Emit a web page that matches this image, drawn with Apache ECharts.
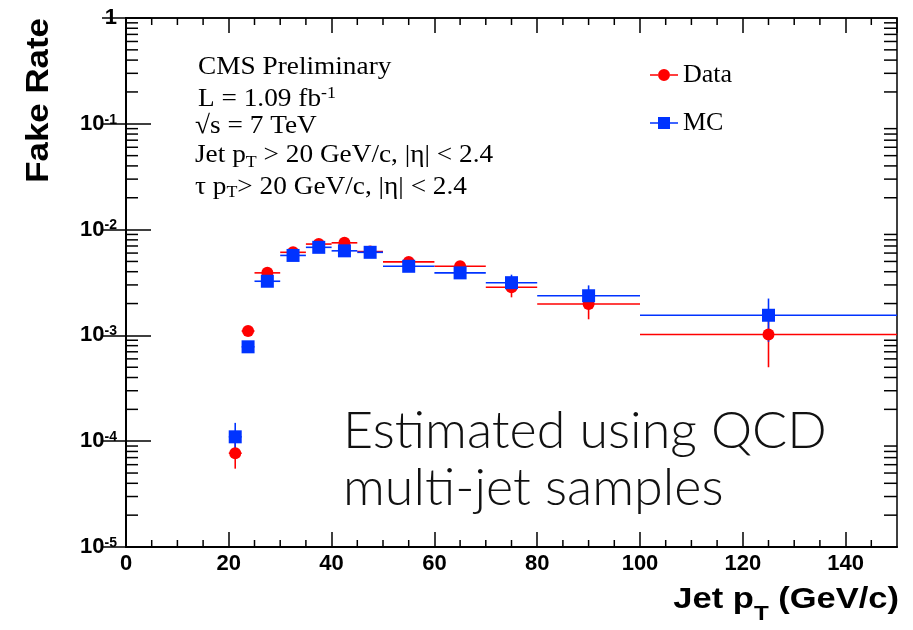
<!DOCTYPE html>
<html><head><meta charset="utf-8">
<script src="https://cdn.jsdelivr.net/npm/echarts@6/dist/echarts.min.js"></script>
<style>html,body{margin:0;padding:0;background:#fff}#c{width:913px;height:630px}</style>
</head><body><div id="c"></div>
<script>
// ---- data ----
const binLow    = [20, 22.5, 25, 30, 35, 40, 45, 50, 60, 70, 80, 100];
const binHigh   = [22.5, 25, 30, 35, 40, 45, 50, 60, 70, 80, 100, 150];
const binCenter = [21.25, 23.75, 27.5, 32.5, 37.5, 42.5, 47.5, 55, 65, 75, 90, 125];
const dataRate  = [7.7e-5, 1.1e-3, 3.9e-3, 6.1e-3, 7.3e-3, 7.5e-3, 6.2e-3, 4.95e-3, 4.5e-3, 2.85e-3, 1.98e-3, 1.02e-3];
const dataErr   = [2.2e-5, 6e-5, 2e-4, 2.5e-4, 3e-4, 3e-4, 3e-4, 3e-4, 3.5e-4, 5.6e-4, 5.6e-4, 5.2e-4];
const mcRate    = [1.1e-4, 7.8e-4, 3.25e-3, 5.7e-3, 6.8e-3, 6.3e-3, 6.1e-3, 4.5e-3, 3.9e-3, 3.15e-3, 2.37e-3, 1.55e-3];
const mcErr     = [3.9e-5, 4e-5, 1.5e-4, 2e-4, 2.5e-4, 2.5e-4, 3e-4, 2.5e-4, 3e-4, 6e-4, 6e-4, 6.8e-4];
const xMinorTicks = [5,10,15,25,30,35,45,50,55,65,70,75,85,90,95,105,110,115,125,130,135,145];
const yMinorMantissa = [2,3,4,5,6,7,8,9];
const yDecades = [-5,-4,-3,-2,-1];

const RED = '#ff0000', BLUE = '#0033ff';
const SANS = 'Liberation Sans', SERIF = 'Liberation Serif';

const yMinorTicks = [];
yDecades.forEach(e => yMinorMantissa.forEach(m => yMinorTicks.push(m * Math.pow(10, e))));

function errRows(rate, err) {
  return binCenter.map((x, i) => [x, rate[i], binLow[i], binHigh[i], rate[i] - err[i], rate[i] + err[i]]);
}
function errRender(color) {
  return function (params, api) {
    const x = api.value(0), y = api.value(1);
    const a = api.coord([api.value(2), y]), b = api.coord([api.value(3), y]);
    const c = api.coord([x, api.value(4)]), d = api.coord([x, api.value(5)]);
    return { type: 'group', children: [
      { type: 'line', shape: { x1: a[0], y1: a[1], x2: b[0], y2: b[1] }, style: { stroke: color, lineWidth: 1.6 } },
      { type: 'line', shape: { x1: c[0], y1: c[1], x2: d[0], y2: d[1] }, style: { stroke: color, lineWidth: 1.6 } }
    ] };
  };
}

const chart = echarts.init(document.getElementById('c'), null, { renderer: 'canvas' });
const tickLabel = { fontFamily: SANS, fontWeight: 'bold', fontSize: 22, color: '#000' };
function serifLine(x, y, text, lh, rich) {
  return { type: 'text', x: x, y: y, scaleX: 1.05, silent: true,
    style: { text: text, fontFamily: SERIF, fontSize: 26, lineHeight: lh, fill: '#000', align: 'left', verticalAlign: 'middle', rich: rich || {} } };
}

const option = {
  backgroundColor: '#fff',
  animation: false,
  grid: { left: 126, right: 16, top: 18, bottom: 83, containLabel: false, outerBoundsMode: 'none',
          show: true, borderColor: '#000', borderWidth: 1.5, backgroundColor: 'transparent' },
  legend: {
    data: [
      { name: 'Data', icon: 'path://M0,5.2H8.2V6.8H0Z M20,5.2H28V6.8H20Z M8,6a6,6 0 1,0 12,0a6,6 0 1,0 -12,0Z' },
      { name: 'MC', icon: 'path://M0,5.2H8.2V6.8H0Z M20,5.2H28V6.8H20Z M8,0H20V12H8Z' }
    ],
    orient: 'vertical', left: 650, top: 62, itemWidth: 28, itemHeight: 12, itemGap: 22,
    padding: 0, selectedMode: false,
    itemStyle: { opacity: 1 },
    textStyle: { fontFamily: SERIF, fontSize: 26, lineHeight: 26, color: '#000' }
  },
  xAxis: [
    { type: 'value', min: 0, max: 150, interval: 20, position: 'bottom',
      axisLine: { show: true, lineStyle: { color: '#000', width: 2 } },
      axisTick: { show: true, inside: true, length: 15, lineStyle: { color: '#000', width: 1.5 } },
      minorTick: { show: false }, splitLine: { show: false },
      axisLabel: Object.assign({ margin: 6, showMaxLabel: false }, tickLabel) },
    { type: 'value', min: 0, max: 150, interval: 20, position: 'top',
      axisLine: { show: true, lineStyle: { color: '#000', width: 1.5 } },
      axisTick: { show: true, inside: true, length: 15, lineStyle: { color: '#000', width: 1.5 } },
      axisLabel: { show: false }, splitLine: { show: false } }
  ],
  yAxis: [
    { type: 'log', logBase: 10, min: 1e-5, max: 1, position: 'left',
      axisLine: { show: true, lineStyle: { color: '#000', width: 2 } },
      axisTick: { show: true, inside: true, length: 25, lineStyle: { color: '#000', width: 1.5 } },
      splitLine: { show: false },
      axisLabel: { margin: 9, color: '#000',
        formatter: v => { const e = Math.round(Math.log10(v)); return e === 0 ? '{b|1}' : '{b|10}{s|' + e + '}'; },
        rich: { b: Object.assign({ lineHeight: 22 }, tickLabel),
                s: { fontFamily: SANS, fontWeight: 'bold', fontSize: 14, lineHeight: 12, verticalAlign: 'top', color: '#000' } } } },
    { type: 'log', logBase: 10, min: 1e-5, max: 1, position: 'right',
      axisLine: { show: true, lineStyle: { color: '#000', width: 1.5 } },
      axisTick: { show: true, inside: true, length: 24, lineStyle: { color: '#000', width: 1.5 } },
      axisLabel: { show: false }, splitLine: { show: false } }
  ],
  series: [
    { type: 'custom', name: 'yMinor', silent: true, clip: false, xAxisIndex: 0, yAxisIndex: 0,
      data: yMinorTicks.map(v => [0, v]),
      renderItem: (params, api) => {
        const cs = params.coordSys; const p = api.coord([0, api.value(1)]);
        return { type: 'group', children: [
          { type: 'line', shape: { x1: cs.x, y1: p[1], x2: cs.x + 12, y2: p[1] }, style: { stroke: '#000', lineWidth: 1.5 } },
          { type: 'line', shape: { x1: cs.x + cs.width - 13, y1: p[1], x2: cs.x + cs.width, y2: p[1] }, style: { stroke: '#000', lineWidth: 1.5 } }
        ] };
      } },
    { type: 'custom', name: 'xMinor', silent: true, clip: false, xAxisIndex: 0, yAxisIndex: 0,
      data: xMinorTicks.map(v => [v, 1e-5]),
      renderItem: (params, api) => {
        const cs = params.coordSys; const p = api.coord([api.value(0), 1e-5]);
        return { type: 'group', children: [
          { type: 'line', shape: { x1: p[0], y1: cs.y + cs.height, x2: p[0], y2: cs.y + cs.height - 7 }, style: { stroke: '#000', lineWidth: 1.5 } },
          { type: 'line', shape: { x1: p[0], y1: cs.y, x2: p[0], y2: cs.y + 7 }, style: { stroke: '#000', lineWidth: 1.5 } }
        ] };
      } },
    { type: 'custom', name: 'Data errors', silent: true, clip: true,
      encode: { x: [0, 2, 3], y: [1, 4, 5] }, data: errRows(dataRate, dataErr), renderItem: errRender(RED) },
    { type: 'scatter', name: 'Data', symbol: 'circle', symbolSize: 12, itemStyle: { color: RED, opacity: 1 },
      data: binCenter.map((x, i) => [x, dataRate[i]]) },
    { type: 'custom', name: 'MC errors', silent: true, clip: true,
      encode: { x: [0, 2, 3], y: [1, 4, 5] }, data: errRows(mcRate, mcErr), renderItem: errRender(BLUE) },
    { type: 'scatter', name: 'MC', symbol: 'rect', symbolSize: 13, itemStyle: { color: BLUE, opacity: 1 },
      data: binCenter.map((x, i) => [x, mcRate[i]]) }
  ],
  graphic: [
    // axis titles
    { type: 'text', x: 39, y: 18, rotation: Math.PI / 2, scaleX: 1.09, silent: true,
      style: { text: 'Fake Rate', fontFamily: SANS, fontWeight: 'bold', fontSize: 32, fill: '#000', align: 'right', verticalAlign: 'middle' } },
    { type: 'text', x: 899, y: 600, scaleX: 1.15, silent: true,
      style: { text: 'Jet p{sub|T} (GeV/c)', fontFamily: SANS, fontWeight: 'bold', fontSize: 30, lineHeight: 50, fill: '#000', align: 'right', verticalAlign: 'middle',
        rich: { sub: { fontFamily: SANS, fontWeight: 'bold', fontSize: 21, lineHeight: 4, verticalAlign: 'bottom', fill: '#000' } } } },
    // annotation block
    serifLine(198, 67, 'CMS Preliminary', 30),
    serifLine(198, 99, 'L = 1.09 fb{sup|-1}', 28,
      { sup: { fontFamily: SERIF, fontSize: 17, lineHeight: 10, verticalAlign: 'top', fill: '#000' } }),
    serifLine(195, 126, '\u221As = 7 TeV', 30),
    serifLine(195, 155, 'Jet p{sub|T} > 20 GeV/c, |\u03B7| < 2.4', 32,
      { sub: { fontFamily: SERIF, fontSize: 17, lineHeight: 2, verticalAlign: 'bottom', fill: '#000' } }),
    serifLine(195, 187, '\u03C4 p{sub|T}> 20 GeV/c, |\u03B7| < 2.4', 28,
      { sub: { fontFamily: SERIF, fontSize: 17, lineHeight: 4, verticalAlign: 'bottom', fill: '#000' } }),
    // slide overlay text
    { type: 'text', x: 343, y: 431, silent: true,
      style: { text: 'Estimated using QCD', fontFamily: 'Lato', fontWeight: 300, fontSize: 52, fill: '#111', align: 'left', verticalAlign: 'middle' } },
    { type: 'text', x: 343, y: 488, silent: true,
      style: { text: 'multi-jet samples', fontFamily: 'Lato', fontWeight: 300, fontSize: 52, fill: '#111', align: 'left', verticalAlign: 'middle' } }
  ]
};
chart.setOption(option);
</script></body></html>
